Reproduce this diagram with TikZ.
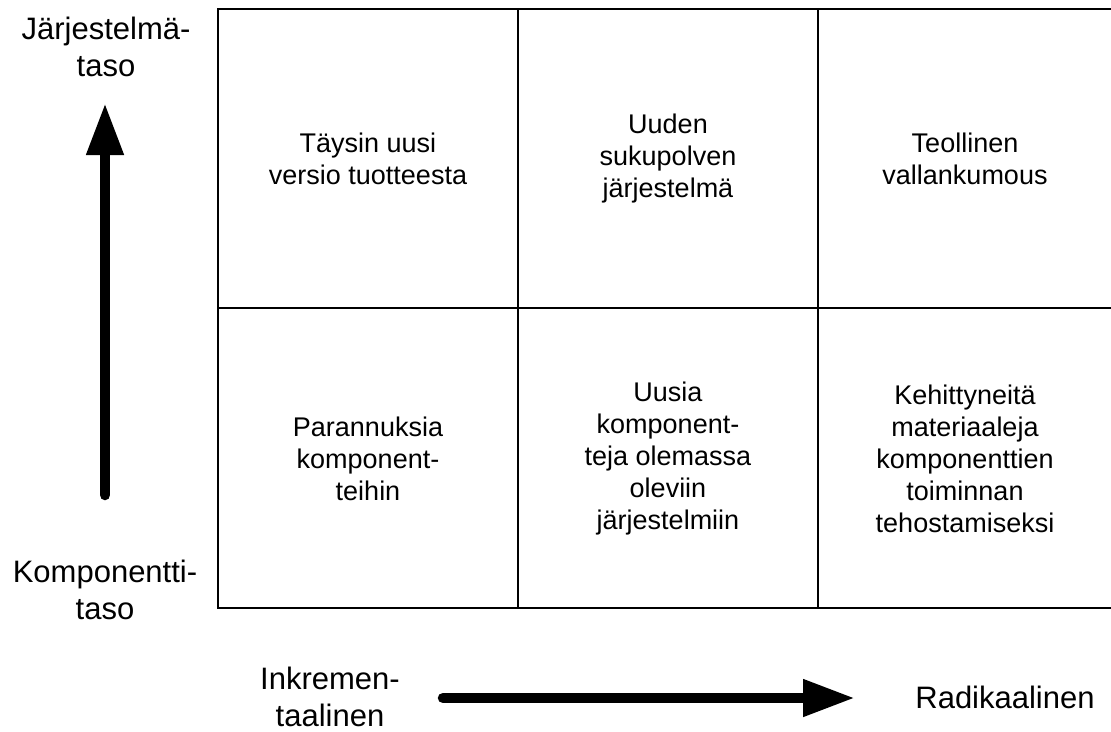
\documentclass[tikz,border=0pt]{standalone}
\usepackage{fontspec}
\setmainfont{Liberation Sans}
\usetikzlibrary{arrows.meta}
\begin{document}
\begin{tikzpicture}[x=1pt,y=-1pt,
  gridline/.style={line width=1.8pt,black},
  celltext/.style={align=center,inner sep=0pt,font=\fontsize{27}{32}\selectfont},
  axistext/.style={align=center,inner sep=0pt,font=\fontsize{31}{37}\selectfont},
  bigarrow/.style={line width=10.5pt,line cap=round,-{Triangle[length=52pt,width=35pt]}}]
\useasboundingbox (0,0) rectangle (1111,731);
\fill[white] (0,0) rectangle (1111,731);

% grid of six cells (open on the right edge)
\draw[gridline] (1111,9) -- (218,9) -- (218,608) -- (1111,608);
\draw[gridline] (218,308) -- (1111,308);
\draw[gridline] (518,9) -- (518,608);
\draw[gridline] (818,9) -- (818,608);

% cell texts
\node[celltext] (c11) at (368,159) {Täysin uusi\\versio tuotteesta};
\node[celltext] (c12) at (668,159) {Uuden\\sukupolven\\järjestelmä};
\node[celltext] (c13) at (965,159) {Teollinen\\vallankumous};
\node[celltext] (c21) at (368,459) {Parannuksia\\komponent-\\teihin};
\node[celltext] (c22) at (668,459) {Uusia\\komponent-\\teja olemassa\\oleviin\\järjestelmiin};
\node[celltext] (c23) at (965,459) {Kehittyneitä\\materiaaleja\\komponenttien\\toiminnan\\tehostamiseksi};

% axis labels
\node[axistext] (top) at (106,47) {Järjestelmä-\\taso};
\node[axistext] (bottom) at (105,590) {Komponentti-\\taso};
\node[axistext] (left) at (330,697) {Inkremen-\\taalinen};
\node[axistext] (right) at (1005,697) {Radikaalinen};

% axis arrows
\coordinate (vstart) at (105,495);
\coordinate (vend) at (105,103);
\coordinate (hstart) at (443,698);
\coordinate (hend) at (855,698);
\draw[bigarrow] (vstart) -- (vend);
\draw[bigarrow] (hstart) -- (hend);
\end{tikzpicture}
\end{document}
